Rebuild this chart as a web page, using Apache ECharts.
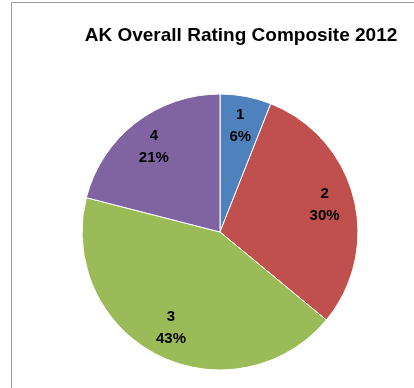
<!DOCTYPE html>
<html>
<head>
<meta charset="utf-8">
<script src="https://cdn.jsdelivr.net/npm/echarts@6/dist/echarts.min.js"></script>
<style>
  html, body { margin: 0; padding: 0; background: #fff; }
  #chart { width: 414px; height: 388px; }
</style>
</head>
<body>
<div id="chart"></div>
<script>
const categories = ['1', '2', '3', '4'];
const shares = [6, 30, 43, 21];
const colors = ['#4F81BD', '#C0504D', '#9BBB59', '#8064A2'];

const chart = echarts.init(document.getElementById('chart'));
const pieData = categories.map((name, i) => ({ name: name, value: shares[i] }));

const option = {
    animation: false,
    title: {
        text: 'AK Overall Rating Composite 2012',
        left: 236,
        top: 21,
        textAlign: 'center',
        textStyle: {
            fontFamily: 'Liberation Sans',
            fontSize: 19,
            fontWeight: 'bold',
            color: '#000'
        }
    },
    graphic: [{
        type: 'rect',
        shape: { x: 11.5, y: 2.5, width: 500, height: 500 },
        style: { fill: 'none', stroke: '#9a9a9a', lineWidth: 1 },
        silent: true
    }],
    series: [
        {
            type: 'pie',
            center: [220, 232],
            radius: 138,
            startAngle: 90,
            clockwise: true,
            data: pieData,
            itemStyle: {
                color: (p) => colors[p.dataIndex],
                borderColor: '#fff',
                borderWidth: 1
            },
            label: { show: false },
            labelLine: { show: false },
            emphasis: { disabled: true }
        },
        {
            // transparent ring that only carries the labels
            type: 'pie',
            center: [220, 232],
            radius: [72, 138],
            startAngle: 90,
            clockwise: true,
            data: pieData,
            silent: true,
            itemStyle: { color: 'rgba(0,0,0,0)' },
            label: {
                show: true,
                position: 'inside',
                formatter: (p) => p.name + '\n' + Math.round(p.percent) + '%',
                fontFamily: 'Liberation Sans',
                fontSize: 15,
                fontWeight: 'bold',
                lineHeight: 22,
                color: '#000'
            },
            labelLine: { show: false },
            emphasis: { disabled: true }
        }
    ]
};
chart.setOption(option);
</script>
</body>
</html>
